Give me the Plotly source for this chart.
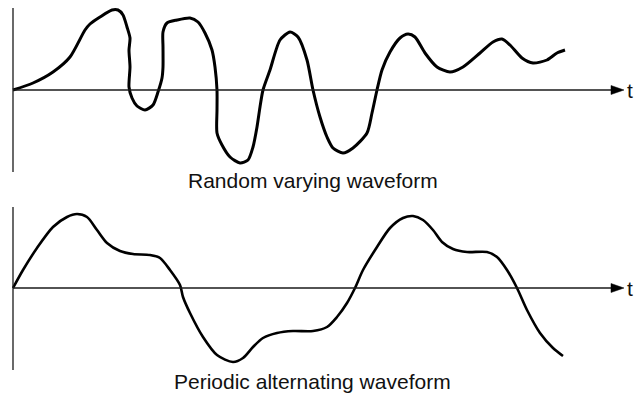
import plotly.graph_objects as go
from plotly.subplots import make_subplots

# Random varying waveform (time, amplitude)
random_t = [0, 20, 40, 57, 72, 77, 87, 99, 105, 110, 114, 117, 116, 117, 116, 119, 124, 132, 140, 145,
            149, 150, 150, 150, 154, 164, 177, 185, 192, 199, 202, 204, 204, 204, 209, 217, 227, 235, 240,
            244, 247, 250, 257, 267, 277, 285, 294, 300, 307, 314, 320, 330, 340, 354, 359, 364, 369, 377,
            387, 395, 402, 412, 424, 437, 450, 467, 480, 489, 497, 509, 520, 534, 544, 552]
random_v = [0, 7, 18, 33, 60, 66, 73, 80, 80, 75, 63, 52, 40, 23, 3, -8, -16, -20, -15, -2,
            12, 23, 43, 58, 67, 70, 72, 68, 57, 40, 23, 0, -20, -43, -55, -67, -73, -70, -57,
            -37, -17, 0, 20, 50, 58, 53, 30, 0, -27, -47, -58, -63, -58, -43, -23, 0, 20, 38,
            52, 56, 53, 37, 23, 18, 23, 37, 48, 51, 45, 32, 27, 30, 37, 40]

# Periodic alternating waveform (time, amplitude)
periodic_t = [0, 10, 24, 40, 54, 64, 74, 84, 94, 107, 120, 137, 147, 157, 167, 170, 177, 190, 204, 220,
              230, 240, 250, 264, 280, 300, 314, 324, 334, 342, 350, 364, 377, 390, 400, 410, 420, 429,
              440, 454, 474, 484, 494, 504, 514, 527, 540, 550]
periodic_v = [0, 18, 40, 61, 71, 74, 71, 58, 45, 37, 34, 33, 30, 18, 3, -9, -25, -49, -67, -74,
              -70, -59, -50, -45, -43, -43, -39, -29, -15, 0, 18, 41, 60, 70, 72, 68, 58, 46,
              39, 36, 36, 31, 18, 0, -22, -45, -60, -68]

captions = ["Random varying waveform", "Periodic alternating waveform"]
axis_label = "t"

H = 396.0
split = 190.0
fig = make_subplots(rows=2, cols=1, vertical_spacing=0,
                    row_heights=[split / H, 1 - split / H])

fig.add_trace(go.Scatter(x=random_t, y=random_v, mode="lines",
                         line=dict(color="black", width=3, shape="spline", smoothing=0.7),
                         hoverinfo="skip"), row=1, col=1)
fig.add_trace(go.Scatter(x=periodic_t, y=periodic_v, mode="lines",
                         line=dict(color="black", width=2.6, shape="spline", smoothing=0.8),
                         hoverinfo="skip"), row=2, col=1)

ax_style = dict(visible=False, showgrid=False, zeroline=False, fixedrange=True)
fig.update_xaxes(range=[-13, 622], **ax_style)
fig.update_yaxes(range=[-100, 90], row=1, col=1, **ax_style)
fig.update_yaxes(range=[-108, 98], row=2, col=1, **ax_style)

axis_col = "#1a1a1a"
shapes = []
for xr, yr, ytop, ybot in [("x", "y", 82, -82), ("x2", "y2", 81, -82)]:
    shapes.append(dict(type="line", xref=xr, yref=yr, x0=0, x1=0, y0=ybot, y1=ytop,
                       line=dict(color=axis_col, width=1.3)))
    shapes.append(dict(type="line", xref=xr, yref=yr, x0=0, x1=600, y0=0, y1=0,
                       line=dict(color=axis_col, width=1.3)))
    shapes.append(dict(type="path", xref=xr, yref=yr, xsizemode="pixel", ysizemode="pixel",
                       xanchor=611, yanchor=0, path="M0,0 L-13,4.5 L-13,-4.5 Z",
                       fillcolor="black", line=dict(color="black", width=0.5)))
fig.update_layout(shapes=shapes)

font = dict(family="Liberation Sans, Arial, sans-serif", size=21, color="#111111")
fig.add_annotation(xref="paper", yref="paper", x=312.5 / 635, y=1 - 180 / H, text=captions[0],
                   showarrow=False, xanchor="center", yanchor="middle", font=font)
fig.add_annotation(xref="paper", yref="paper", x=312.5 / 635, y=1 - 381.5 / H, text=captions[1],
                   showarrow=False, xanchor="center", yanchor="middle", font=font)
for yr in ["y", "y2"]:
    fig.add_annotation(xref="paper", yref=yr, x=1, y=0, text=axis_label, showarrow=False,
                       xanchor="right", yanchor="middle", font=font)

fig.update_layout(width=635, height=396, margin=dict(l=0, r=0, t=0, b=0),
                  paper_bgcolor="white", plot_bgcolor="white", showlegend=False)

fig.write_html("out.html", config={"displayModeBar": False},
               post_script="document.body.style.margin='0';document.body.style.overflow='hidden';")
